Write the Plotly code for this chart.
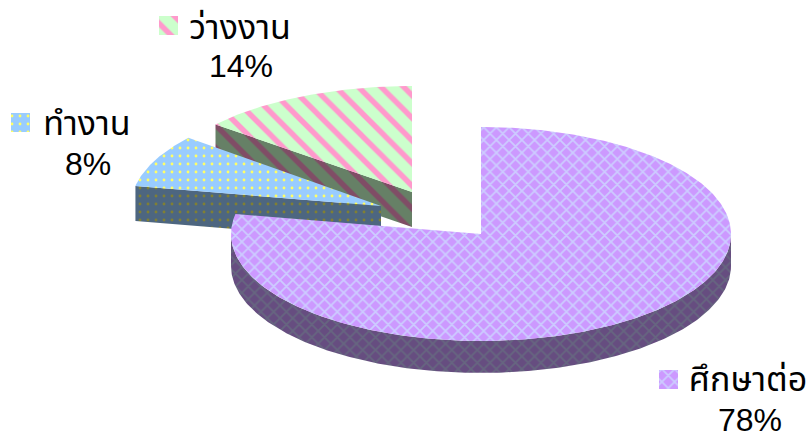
import numpy as np
import plotly.graph_objects as go

# ---- data ----
categories = ["ศึกษาต่อ", "ทำงาน", "ว่างงาน"]
shares = [78, 8, 14]

# ---- styles / layout of the exploded 3-D pie, in page pixels ----
W, H = 809, 434
apex = {"ศึกษาต่อ": (481, 234), "ทำงาน": (381, 206), "ว่างงาน": (412, 192)}
radii = {"ศึกษาต่อ": (250, 107), "ทำงาน": (250, 107), "ว่างงาน": (255, 106)}
depth = {"ศึกษาต่อ": 32, "ทำงาน": 35, "ว่างงาน": 35}
top_style = {
    "ศึกษาต่อ": dict(bg="#CC99FF", fg="#CCCCFF", shape="x", size=9, solidity=0.35),
    "ทำงาน": dict(bg="#99CCFF", fg="#FFFF66", shape=".", size=8, solidity=0.1),
    "ว่างงาน": dict(bg="#CCFFCC", fg="#FF99CC", shape="\\", size=16, solidity=0.34),
}
side_style = {
    "ศึกษาต่อ": dict(bg="#664D80", fg="#666680"),
    "ทำงาน": dict(bg="#4D6680", fg="#808033"),
    "ว่างงาน": dict(bg="#668066", fg="#804D66"),
}
key_xy = {"ศึกษาต่อ": (659, 370), "ทำงาน": (11, 113), "ว่างงาน": (159, 16)}
name_xy = {"ศึกษาต่อ": (748, 382), "ทำงาน": (87, 126), "ว่างงาน": (240, 30)}
pct_xy = {"ศึกษาต่อ": (750, 423), "ทำงาน": (88, 167), "ว่างงาน": (241, 69)}
draw_order = ["ว่างงาน", "ทำงาน", "ศึกษาต่อ"]
FONT = "Liberation Sans, Arial, Noto Sans Thai, Noto Sans, sans-serif"
NAME_SIZE = 34
PCT_SIZE = 32

total = sum(shares)
start = {}
acc = 0.0
for c, v in zip(categories, shares):
    start[c] = acc
    acc += v / total * 2 * np.pi


def rim(c, a0, a1, dy=0.0):
    """Points on the elliptical rim, clock angle measured from 12 o'clock."""
    cx, cy = apex[c]
    rx, ry = radii[c]
    t = np.linspace(a0, a1, max(2, int(abs(a1 - a0) * 80)))
    return cx + rx * np.sin(t), cy - ry * np.cos(t) + dy


def pattern(st):
    return dict(shape=st["shape"], bgcolor=st["bg"], fgcolor=st["fg"], fgopacity=1,
                size=st["size"], solidity=st["solidity"], fillmode="overlay")


def poly(x, y, st, name):
    return go.Scatter(x=list(x) + [x[0]], y=list(y) + [y[0]], mode="lines",
                      fill="toself", fillcolor=st["bg"], fillpattern=pattern(st),
                      line=dict(width=0, color=st["bg"]), name=name, showlegend=False,
                      hoverinfo="name")


fig = go.Figure()
for c in draw_order:
    a0 = start[c]
    a1 = a0 + shares[categories.index(c)] / total * 2 * np.pi
    cx, cy = apex[c]
    d = depth[c]
    ts = top_style[c]
    ss = dict(ts, bg=side_style[c]["bg"], fg=side_style[c]["fg"])
    # side walls
    if c == "ศึกษาต่อ":
        x, y = rim(c, np.pi / 2, 3 * np.pi / 2)
        fig.add_trace(poly(np.r_[x, x[::-1]], np.r_[y, y[::-1] + d], ss, c))
    else:
        x, y = rim(c, a0, a0)
        ex, ey = x[0], y[0]
        fig.add_trace(poly([ex, cx, cx, ex], [ey, cy, cy + d, ey + d], ss, c))
    # top face
    x, y = rim(c, a0, a1)
    fig.add_trace(poly(np.r_[cx, x], np.r_[cy, y], ts, c))

# legend keys inside the labels
KEY = 19
for c in categories:
    kx, ky = key_xy[c]
    st = dict(top_style[c])
    fig.add_trace(poly([kx, kx + KEY, kx + KEY, kx], [ky, ky, ky + KEY, ky + KEY], st, c))

for c, v in zip(categories, shares):
    fig.add_trace(go.Scatter(
        x=[name_xy[c][0]], y=[name_xy[c][1]],
        mode="text", text=[c], textposition="middle center",
        textfont=dict(family=FONT, size=NAME_SIZE, color="#000000"),
        showlegend=False, hoverinfo="skip", cliponaxis=False))
    fig.add_trace(go.Scatter(
        x=[pct_xy[c][0]], y=[pct_xy[c][1]],
        mode="text", text=[f"{v}%"], textposition="middle center",
        textfont=dict(family=FONT, size=PCT_SIZE, color="#000000"),
        showlegend=False, hoverinfo="skip", cliponaxis=False))

fig.update_layout(
    width=W, height=H, margin=dict(l=0, r=0, t=0, b=0),
    paper_bgcolor="#FFFFFF", plot_bgcolor="#FFFFFF", showlegend=False,
    xaxis=dict(range=[0, W], visible=False, fixedrange=True),
    yaxis=dict(range=[H, 0], visible=False, fixedrange=True),
)
fig.write_html("out.html", config={"displayModeBar": False},
               post_script="document.body.style.margin='0';document.body.style.overflow='hidden';")
